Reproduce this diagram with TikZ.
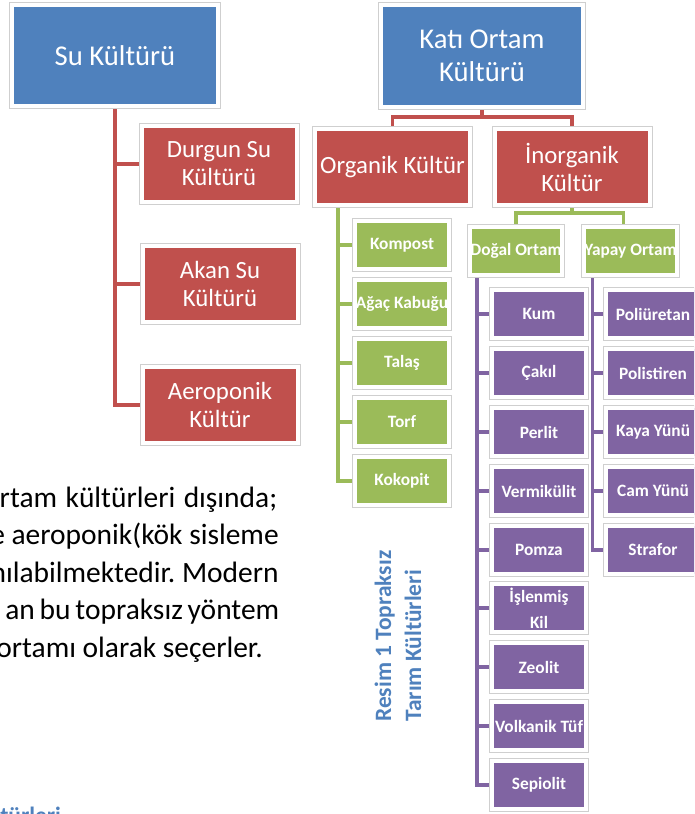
\documentclass[tikz,border=0pt]{standalone}
\usepackage{fontspec}
\setmainfont{Carlito}
\usepackage{xcolor}
\usepackage{tikz}
\usetikzlibrary{positioning,backgrounds}
\frenchspacing
\definecolor{cBlue}{HTML}{4F81BD}
\definecolor{cRed}{HTML}{C0504D}
\definecolor{cGreen}{HTML}{9BBB59}
\definecolor{cPurple}{HTML}{8064A2}
\definecolor{cFrame}{HTML}{CFCFCF}
\definecolor{cInk}{HTML}{000000}
\tikzset{
  tbox/.style={fill=#1,draw=white,line width=3pt,preaction={draw=cFrame,line width=4.5pt},inner sep=0pt,align=center,text=white},
  tbox/.default=cBlue,
  conn/.style={draw=#1,line width=2.6pt},
  conn/.default=cRed,
}
\tikzset{
  topbox/.style={tbox=cBlue,font=\fontsize{21.5}{24.75}\selectfont},
  midbox/.style={tbox=cRed,minimum width=116.25pt,minimum height=57pt,font=\fontsize{18.6}{21}\selectfont},
  leaf/.style={tbox=#1,minimum width=70.5pt,minimum height=36pt,font=\fontsize{13}{19.5}\selectfont\bfseries},
  body/.style={font=\fontsize{22.1}{27}\selectfont,inner sep=0pt,text=cInk},
  captext/.style={font=\fontsize{17.6}{22.5}\selectfont\bfseries,inner sep=0pt,text=cBlue},
}

\begin{document}
\begin{tikzpicture}[x=0.75pt,y=-0.75pt]
    \path[use as bounding box] (0,0) rectangle (694,814);
    \clip (0,0) rectangle (694,814);
    % su kulturu
    \node[topbox,minimum width=154.5pt,minimum height=75.75pt] (su) at (115,55.5) {Su Kültürü};
    \node[midbox] (durgun) at (219,164) {Durgun Su\\Kültürü};
    \node[midbox] (akan) at (220,284) {Akan Su\\Kültürü};
    \node[midbox] (aero) at (220,405) {Aeroponik\\Kültür};
    % kati ortam kulturu
    \node[topbox,minimum width=151.5pt,minimum height=76.5pt] (kati) at (482,56) {Katı Ortam\\Kültürü};
    \node[midbox] (organik) at (392.5,167) {Organik Kültür};
    \node[midbox] (inorg) at (572,167) {İnorganik\\Kültür};
    \node[leaf=cGreen] (g1) at (402,245) {Kompost};
    \node[leaf=cGreen] (g2) at (402,304) {Ağaç Kabuğu};
    \node[leaf=cGreen] (g3) at (402,363) {Talaş};
    \node[leaf=cGreen] (g4) at (402,422) {Torf};
    \node[leaf=cGreen] (g5) at (402,481) {Kokopit};
    \node[leaf=cGreen,minimum width=69pt] (dogal) at (516,251) {Doğal Ortam};
    \node[leaf=cGreen,minimum width=69pt] (yapay) at (630.5,251) {Yapay Ortam};
    \node[leaf=cPurple] (d1) at (539,314) {Kum};
    \node[leaf=cPurple] (d2) at (539,373) {Çakıl};
    \node[leaf=cPurple] (d3) at (539,432) {Perlit};
    \node[leaf=cPurple] (d4) at (539,491) {Vermikülit};
    \node[leaf=cPurple] (d5) at (539,550) {Pomza};
    \node[leaf=cPurple] (d6) at (539,608) {İşlenmiş\\Kil};
    \node[leaf=cPurple] (d7) at (539,667) {Zeolit};
    \node[leaf=cPurple] (d8) at (539,726) {Volkanik Tüf};
    \node[leaf=cPurple] (d9) at (539,785) {Sepiolit};
    \node[leaf=cPurple] (y1) at (653,314) {Poliüretan};
    \node[leaf=cPurple] (y2) at (653,373) {Polistiren};
    \node[leaf=cPurple] (y3) at (653,432) {Kaya Yünü};
    \node[leaf=cPurple] (y4) at (653,491) {Cam Yünü};
    \node[leaf=cPurple] (y5) at (653,550) {Strafor};
    % connectors
    \begin{scope}[on background layer]
      \draw[conn] (su.south) |- (aero.west);
      \draw[conn] (su.south) |- (durgun.west);
      \draw[conn] (su.south) |- (akan.west);
      \draw[conn] (kati.south) -- ++(0,8) -| (organik.north);
      \draw[conn] (kati.south) -- ++(0,8) -| (inorg.north);
      \draw[conn=cGreen] (organik.south west) ++(25,0) |- (g5.west);
      \draw[conn=cGreen] (organik.south west) ++(25,0) |- (g1.west);
      \draw[conn=cGreen] (organik.south west) ++(25,0) |- (g2.west);
      \draw[conn=cGreen] (organik.south west) ++(25,0) |- (g3.west);
      \draw[conn=cGreen] (organik.south west) ++(25,0) |- (g4.west);
      \draw[conn=cGreen] (inorg.south) -- ++(0,6) -| (dogal.north);
      \draw[conn=cGreen] (inorg.south) -- ++(0,6) -| ([xshift=-5.25pt]yapay.north);
      \draw[conn=cPurple] (dogal.south west) ++(9,0) |- (d9.west);
      \draw[conn=cPurple] (dogal.south west) ++(9,0) |- (d1.west);
      \draw[conn=cPurple] (dogal.south west) ++(9,0) |- (d2.west);
      \draw[conn=cPurple] (dogal.south west) ++(9,0) |- (d3.west);
      \draw[conn=cPurple] (dogal.south west) ++(9,0) |- (d4.west);
      \draw[conn=cPurple] (dogal.south west) ++(9,0) |- (d5.west);
      \draw[conn=cPurple] (dogal.south west) ++(9,0) |- (d6.west);
      \draw[conn=cPurple] (dogal.south west) ++(9,0) |- (d7.west);
      \draw[conn=cPurple] (dogal.south west) ++(9,0) |- (d8.west);
      \draw[conn=cPurple] (yapay.south west) ++(10,0) |- (y5.west);
      \draw[conn=cPurple] (yapay.south west) ++(10,0) |- (y1.west);
      \draw[conn=cPurple] (yapay.south west) ++(10,0) |- (y2.west);
      \draw[conn=cPurple] (yapay.south west) ++(10,0) |- (y3.west);
      \draw[conn=cPurple] (yapay.south west) ++(10,0) |- (y4.west);
    \end{scope}
    % page text
    \node[body,anchor=base east] (t1) at (272,507) {\makebox[204pt][s]{rtam\hspace{3pt} kültürleri\hspace{3pt} dışında;}};
    \node[body,anchor=base east] (t2) at (279,544.5) {e aeroponik(kök sisleme};
    \node[body,anchor=base east] (t3) at (279,582) {nılabilmektedir. Modern};
    \node[body,anchor=base west] (t4) at (5,619.5) {\makebox[205.5pt][s]{an bu topraksız yöntem}};
    \node[body,anchor=base east] (t5) at (263,657) {ortamı olarak seçerler.};
    \node[captext,rotate=90,anchor=west,align=left] (capt) at (398,722) {Resim 1 Topraksız\\Tarım Kültürleri};
    \node[captext,anchor=base west] (sub) at (0,823) {türleri};
\end{tikzpicture}
\end{document}
